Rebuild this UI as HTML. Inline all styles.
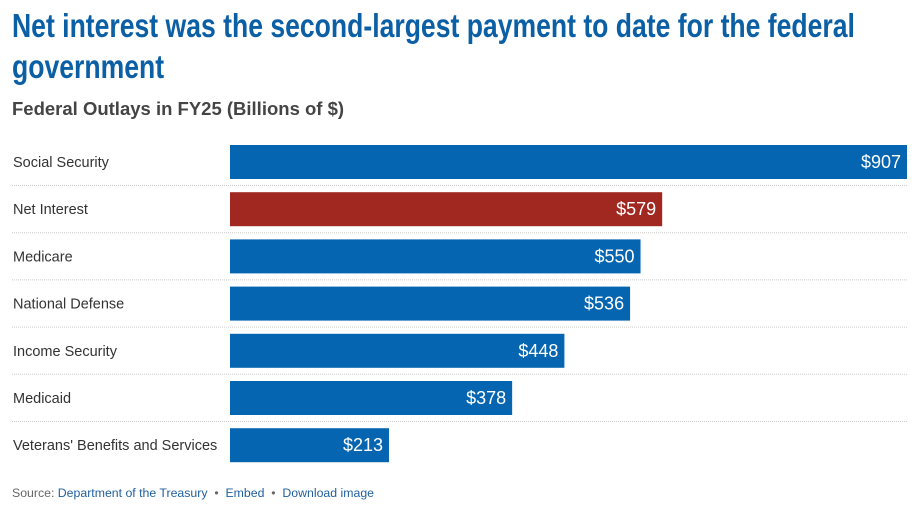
<!DOCTYPE html>
<html><head><meta charset="utf-8"><style>
body{margin:0;width:924px;height:507px;background:#fff;font-family:"Liberation Sans",sans-serif;position:relative;overflow:hidden}
.tl{position:absolute;left:12px;white-space:nowrap;font-weight:bold;font-size:33px;line-height:40px;color:#0b5fa5;transform-origin:0 0;transform:scaleX(0.805)}
#sub{position:absolute;left:12px;top:98px;font-size:18.5px;font-weight:bold;color:#444;white-space:nowrap}
#src{position:absolute;left:12px;top:486px;font-size:12.3px;color:#666;white-space:nowrap}
#src a{color:#1f5f9e;text-decoration:none}
</style></head><body>
<div>
<div class="tl" style="top:6px">Net interest was the second-largest payment to date for the federal</div>
<div class="tl" style="top:47px">government</div>
</div>
<div id="sub">Federal Outlays in FY25 (Billions of $)</div>
<svg id="chart" width="924" height="507" style="position:absolute;left:0;top:0"></svg>
<div id="src">Source: <a>Department of the Treasury</a> &nbsp;•&nbsp; <a>Embed</a> &nbsp;•&nbsp; <a>Download image</a></div>
<script>
const categories=["Social Security","Net Interest","Medicare","National Defense","Income Security","Medicaid","Veterans' Benefits and Services"];
const values=[907,579,550,536,448,378,213];
const highlight=[false,true,false,false,false,false,false];
const NS="http://www.w3.org/2000/svg";
const svg=document.getElementById('chart');
const x0=230,x1=907,vmax=907;
const xs=v=>x0+(v/vmax)*(x1-x0);
const top0=145,pitch=47.2,bh=34;
const ys=i=>top0+i*pitch;
function mk(t,a){const e=document.createElementNS(NS,t);for(const k in a)e.setAttribute(k,a[k]);svg.appendChild(e);return e;}
categories.forEach((c,i)=>{
  const y=ys(i);
  if(i<categories.length-1){
    const l=mk('line',{x1:12,x2:907,y1:y+bh+6.5,y2:y+bh+6.5,stroke:'#ccc','stroke-width':1,'stroke-dasharray':'1,1'});
    
    
  }
  const lab=mk('text',{x:13,y:y+bh/2+5,'font-size':14.5,fill:'#333','font-family':'Liberation Sans, sans-serif'});
  lab.textContent=c;
  
  
  const r=mk('rect',{x:x0,y:y,width:xs(values[i])-x0,height:bh,fill:highlight[i]?'#a02820':'#0565b0'});
  
  
  const v=mk('text',{x:xs(values[i])-6,y:y+bh/2+6,'font-size':18,fill:'#fff','text-anchor':'end','font-family':'Liberation Sans, sans-serif'});
  v.textContent='$'+values[i];
  
  
});
</script>
</body></html>
